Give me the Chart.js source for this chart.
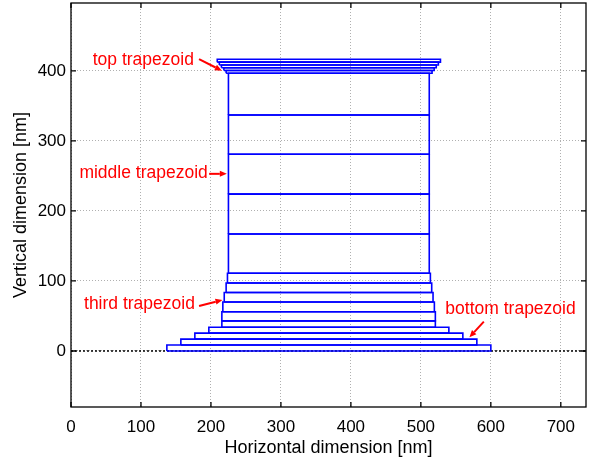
<!DOCTYPE html>
<html>
<head>
<meta charset="utf-8">
<script src="https://cdn.jsdelivr.net/npm/chart.js@4/dist/chart.umd.min.js"></script>
<style>
  html, body { margin: 0; padding: 0; background: #fff; }
  #wrap { width: 589px; height: 462px; }
</style>
</head>
<body>
<div id="wrap"><canvas id="c" width="589" height="462"></canvas></div>
<script>
// ---- data (nm) ----
const layerBottom = [0, 8.5, 17, 25.5, 34, 43, 56, 70, 83.5, 97, 111, 167, 224, 281, 337, 396.7, 400.5, 404.5, 408.5, 412.5];
const layerTop    = [8.5, 17, 25.5, 34, 43, 56, 70, 83.5, 97, 111, 167, 224, 281, 337, 396.7, 400.5, 404.5, 408.5, 412.5, 416.7];
const layerLeft   = [137, 157, 177, 197, 215.6, 215.6, 217, 219, 221.7, 223.6, 225, 225, 225, 225, 225, 221.7, 218.5, 215, 212, 209];
const layerRight  = [600, 580, 560, 540, 520.7, 520.7, 519.3, 517.4, 515.5, 513.6, 512, 512, 512, 512, 512, 516, 519, 522, 525, 528];

const xTicks = [0, 100, 200, 300, 400, 500, 600, 700];
const yTicks = [0, 100, 200, 300, 400];
const xRange = [0, 736];
const yRange = [-80, 497];

const noteText  = ['top trapezoid', 'middle trapezoid', 'third trapezoid', 'bottom trapezoid'];
const noteX     = [31, 12, 18.6, 535];
const noteY     = [416, 254, 67, 60];
const arrowFromX = [183, 197.4, 183, 590];
const arrowFromY = [416.7, 253, 64.3, 41.9];
const arrowToX   = [215.6, 222.7, 216.5, 569.4];
const arrowToY   = [400.4, 253, 72.9, 19.6];

const FONT = "'Liberation Sans', Arial, Helvetica, sans-serif";

const datasets = layerBottom.map((b, i) => ({
  data: [
    {x: layerLeft[i], y: b},
    {x: layerRight[i], y: b},
    {x: layerRight[i], y: layerTop[i]},
    {x: layerLeft[i], y: layerTop[i]},
    {x: layerLeft[i], y: b}
  ],
  showLine: true,
  borderColor: '#0000ff',
  borderWidth: 1.6,
  pointRadius: 0,
  fill: false,
  tension: 0,
  borderJoinStyle: 'miter'
}));
datasets.push({
  data: [{x: xRange[0], y: 0}, {x: xRange[1], y: 0}],
  showLine: true,
  borderColor: '#000',
  borderWidth: 1.5,
  borderDash: [2, 2],
  pointRadius: 0,
  fill: false
});

const framePlugin = {
  id: 'frame',
  afterDatasetsDraw(chart) {
    const ctx = chart.ctx, a = chart.chartArea;
    const xs = chart.scales.x, ys = chart.scales.y;
    ctx.save();
    ctx.strokeStyle = '#000';
    ctx.lineWidth = 1.3;
    ctx.strokeRect(a.left, a.top, a.right - a.left, a.bottom - a.top);
    const tl = 5;
    ctx.beginPath();
    xTicks.forEach(v => {
      const p = xs.getPixelForValue(v);
      ctx.moveTo(p, a.bottom); ctx.lineTo(p, a.bottom - tl);
      ctx.moveTo(p, a.top); ctx.lineTo(p, a.top + tl);
    });
    yTicks.forEach(v => {
      const p = ys.getPixelForValue(v);
      ctx.moveTo(a.left, p); ctx.lineTo(a.left + tl, p);
      ctx.moveTo(a.right, p); ctx.lineTo(a.right - tl, p);
    });
    ctx.stroke();

    // annotations
    ctx.fillStyle = '#ff0000';
    ctx.strokeStyle = '#ff0000';
    ctx.font = '17.5px ' + FONT;
    ctx.textBaseline = 'middle';
    ctx.textAlign = 'left';
    noteText.forEach((t, i) => {
      ctx.fillText(t, xs.getPixelForValue(noteX[i]), ys.getPixelForValue(noteY[i]));
      const x1 = xs.getPixelForValue(arrowFromX[i]), y1 = ys.getPixelForValue(arrowFromY[i]);
      const x2 = xs.getPixelForValue(arrowToX[i]), y2 = ys.getPixelForValue(arrowToY[i]);
      const ang = Math.atan2(y2 - y1, x2 - x1);
      const hl = 7, hw = 3;
      const bx = x2 - hl * Math.cos(ang), by = y2 - hl * Math.sin(ang);
      ctx.lineWidth = 2;
      ctx.beginPath();
      ctx.moveTo(x1, y1); ctx.lineTo(bx, by);
      ctx.stroke();
      ctx.beginPath();
      ctx.moveTo(x2, y2);
      ctx.lineTo(bx + hw * Math.sin(ang), by - hw * Math.cos(ang));
      ctx.lineTo(bx - hw * Math.sin(ang), by + hw * Math.cos(ang));
      ctx.closePath();
      ctx.fill();
    });
    ctx.restore();
  }
};

new Chart(document.getElementById('c'), {
  type: 'scatter',
  data: { datasets },
  options: {
    responsive: false,
    animation: false,
    devicePixelRatio: 1,
    layout: { padding: { top: 3, right: 3, left: 0, bottom: 0 } },
    plugins: { legend: { display: false }, tooltip: { enabled: false } },
    scales: {
      x: {
        type: 'linear',
        min: xRange[0], max: xRange[1],
        afterBuildTicks: s => { s.ticks = xTicks.map(v => ({value: v})); },
        afterFit: s => { s.height = 55; s.paddingLeft = 0; s.paddingRight = 0; },
        grid: { color: '#b0b0b0', lineWidth: 1, drawTicks: false },
        border: { display: false, dash: [1, 2] },
        ticks: { color: '#000', font: { family: FONT, size: 17 }, padding: 10, maxRotation: 0 },
        title: { display: true, text: 'Horizontal dimension [nm]', color: '#000', font: { family: FONT, size: 18 }, padding: { top: 0, bottom: 3 } }
      },
      y: {
        type: 'linear',
        min: yRange[0], max: yRange[1],
        afterBuildTicks: s => { s.ticks = yTicks.map(v => ({value: v})); },
        afterFit: s => { s.width = 71; s.paddingTop = 0; s.paddingBottom = 0; },
        grid: { color: '#b0b0b0', lineWidth: 1, drawTicks: false },
        border: { display: false, dash: [1, 2] },
        ticks: { color: '#000', font: { family: FONT, size: 17 }, padding: 5 },
        title: { display: true, text: 'Vertical dimension [nm]', color: '#000', font: { family: FONT, size: 18 }, padding: { top: 10, bottom: 0 } }
      }
    }
  },
  plugins: [framePlugin]
});
</script>
</body>
</html>
